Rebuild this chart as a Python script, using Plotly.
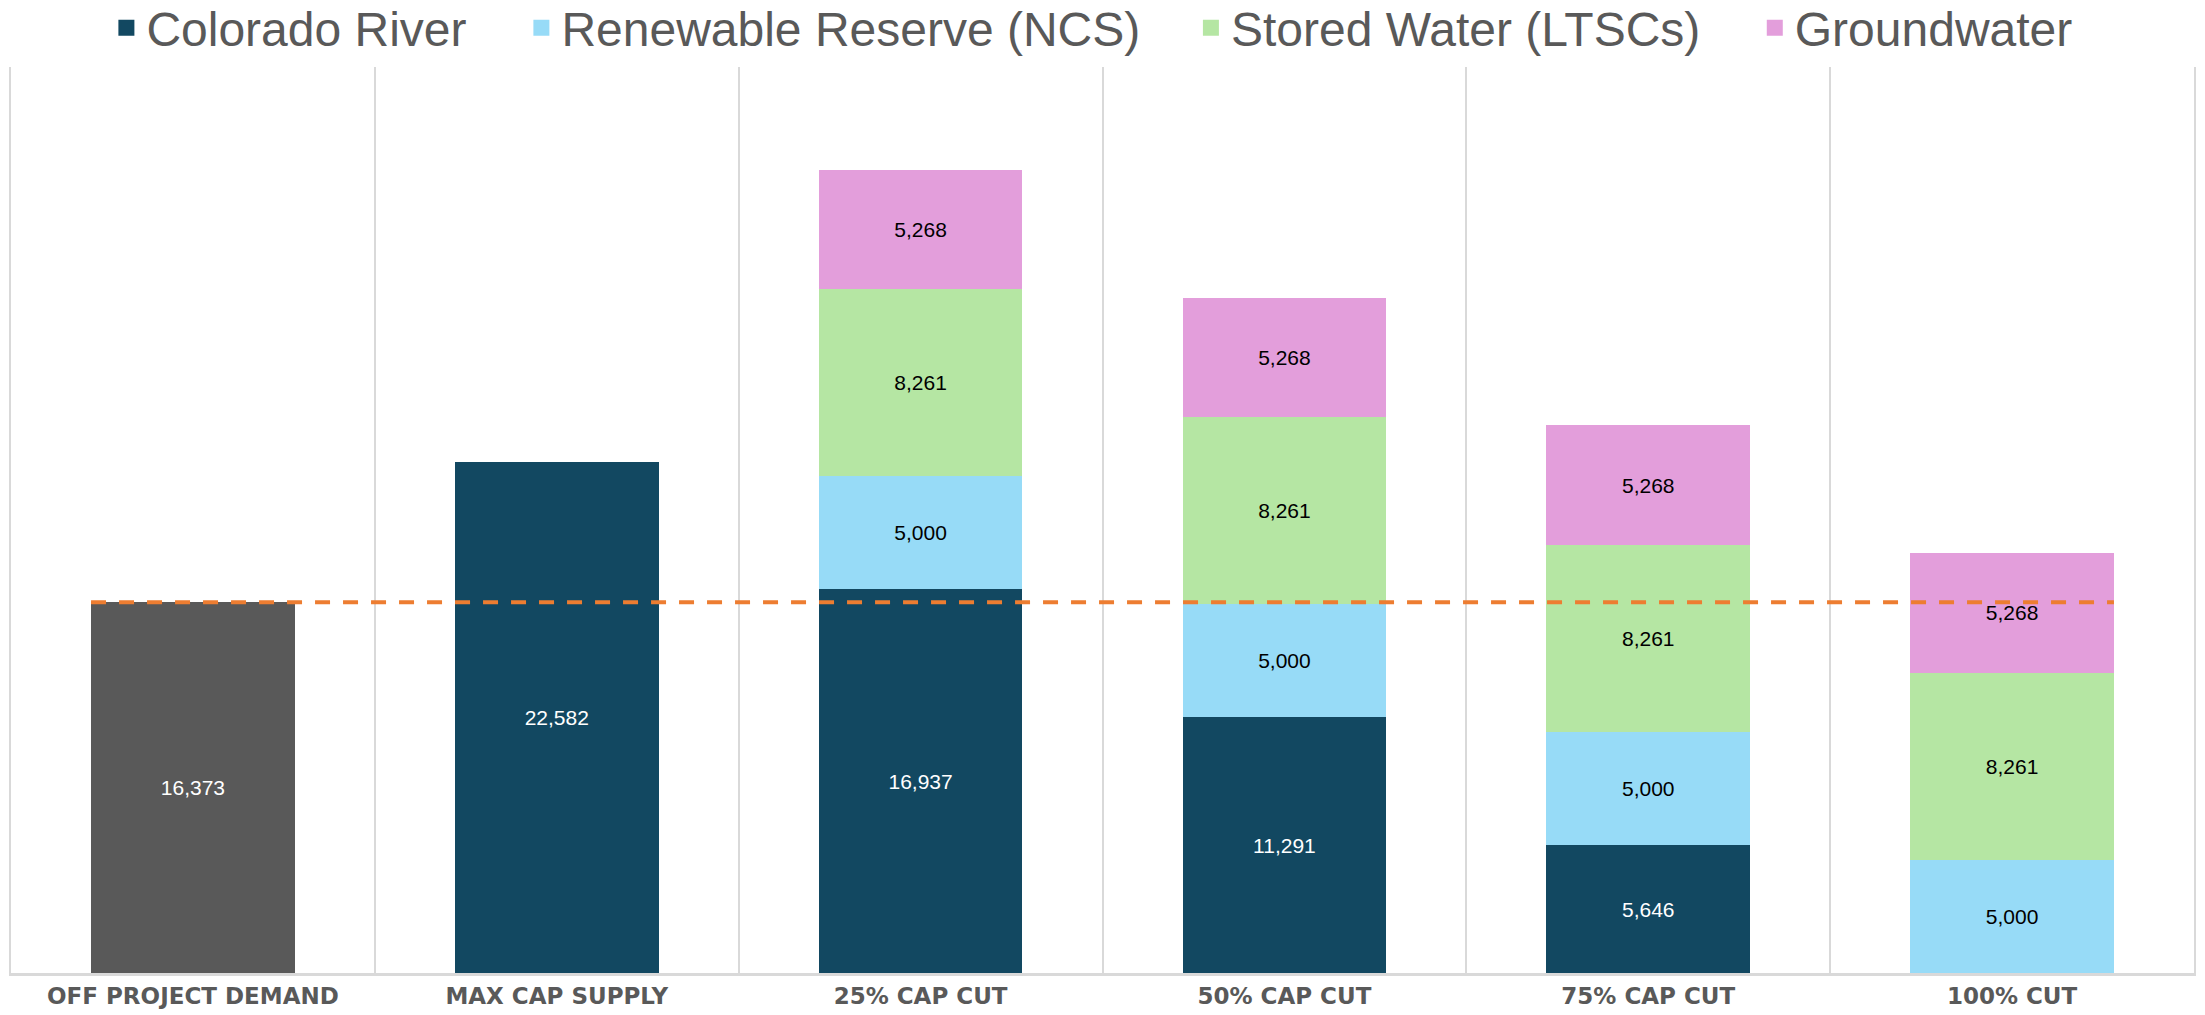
import plotly.graph_objects as go

categories = ["OFF PROJECT DEMAND", "MAX CAP SUPPLY", "25% CAP CUT", "50% CAP CUT", "75% CAP CUT", "100% CUT"]
demand = [16373, None, None, None, None, None]
colorado = [None, 22582, 16937, 11291, 5646, None]
renewable = [None, None, 5000, 5000, 5000, 5000]
stored = [None, None, 8261, 8261, 8261, 8261]
groundwater = [None, None, 5268, 5268, 5268, 5268]
demand_line = 16373

series = [
    ("Colorado River", colorado, "#124861", "white"),
    ("Renewable Reserve (NCS)", renewable, "#97DBF7", "black"),
    ("Stored Water (LTSCs)", stored, "#B5E6A3", "black"),
    ("Groundwater", groundwater, "#E39EDB", "black"),
]
legend_x = [0.0437, 0.2338, 0.5405, 0.7988]

LEG_FONT = "Liberation Sans, Arial, sans-serif"
LBL_FONT = "Liberation Sans, Arial, sans-serif"

fig = go.Figure()
fig.add_trace(go.Bar(
    x=categories, y=demand, name="Off Project Demand", showlegend=False,
    marker=dict(color="#595959", line=dict(width=0)),
    texttemplate="%{y:,.0f}", textposition="inside", insidetextanchor="middle",
    textangle=0, textfont=dict(color="white", size=21, family=LBL_FONT),
    hoverinfo="x+y",
))
legends = {}
for i, (name, vals, col, tcol) in enumerate(series):
    lg = "legend" if i == 0 else f"legend{i + 1}"
    fig.add_trace(go.Bar(
        x=categories, y=vals, name=name, legendgroup=name, showlegend=False,
        marker=dict(color=col, line=dict(width=0)),
        texttemplate="%{y:,.0f}", textposition="inside", insidetextanchor="middle",
        textangle=0, textfont=dict(color=tcol, size=21, family=LBL_FONT),
    ))
    fig.add_trace(go.Scatter(
        x=[None], y=[None], mode="markers", name=name, legendgroup=name, legend=lg,
        marker=dict(symbol="square", size=26, color=col), showlegend=True,
    ))
    legends[lg] = dict(orientation="h", x=legend_x[i], xanchor="left", y=1.043,
                       yanchor="middle", yref="paper", itemsizing="trace",
                       font=dict(size=48, color="#595959", family=LEG_FONT),
                       itemwidth=30, bgcolor="rgba(0,0,0,0)")

fig.add_shape(type="line", xref="x", yref="y", x0=-0.28, x1=5.28,
              y0=demand_line, y1=demand_line,
              line=dict(color="#ED7D31", width=4, dash="15px,13px"))

fig.update_layout(
    barmode="stack", bargap=0.44,
    width=2205, height=1015,
    paper_bgcolor="white", plot_bgcolor="white",
    margin=dict(l=11, r=11, t=67, b=42, autoexpand=False),
    xaxis=dict(type="category", tickson="boundaries", showgrid=True,
               gridcolor="#D9D9D9", gridwidth=2, ticks="", showline=True,
               linecolor="#D9D9D9", linewidth=3,
               tickfont=dict(size=23, color="#595959",
                             family="DejaVu Sans, sans-serif", weight="bold")),
    yaxis=dict(range=[0, 40000], visible=True, showgrid=False, showticklabels=False,
               zeroline=False, ticks="", showline=True, linecolor="#D9D9D9",
               linewidth=2, mirror=True),
    **legends,
)

fig.write_html("out.html", config={"displayModeBar": False},
               post_script="document.body.style.margin='0';document.body.style.overflow='hidden';")
